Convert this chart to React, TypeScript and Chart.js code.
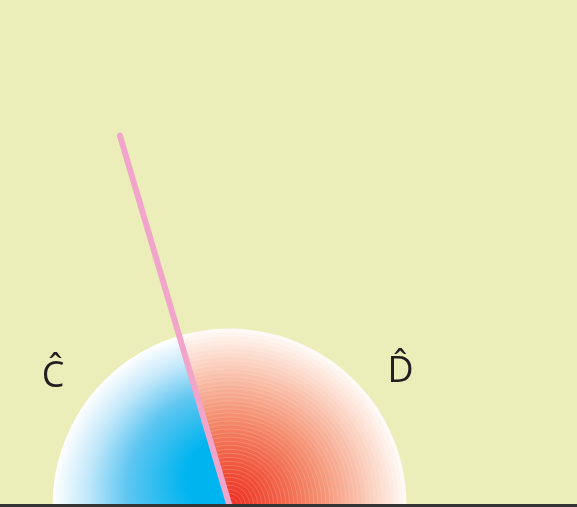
import React, { useEffect, useRef } from "react";
import { Chart, registerables } from "chart.js";

Chart.register(...registerables);

// ---- data ----
const angleNames = ["C\u0302", "D\u0302"];
const angleValuesDeg = [73.5, 106.5]; // C (left, blue), D (right, red); sum = 180
const semicircleRadius = [1];
const rayLength = [2.18];

// view window in data units (circle radius = 1)
const X_MIN = -1.2966;
const X_MAX = 1.9633;
const Y_MIN = -0.0085;
const Y_MAX = 2.8559;

const BG = "#eceeb9";

function mix(a: number[], b: number[], t: number) {
  return a.map((v, i) => Math.round(v + (b[i] - v) * t));
}
const redStops: [number, number[]][] = [
  [0, [237, 45, 34]],
  [0.25, [240, 90, 65]],
  [0.5, [244, 140, 110]],
  [0.75, [249, 196, 176]],
  [0.9, [253, 230, 220]],
  [1, [255, 253, 250]],
];
function redAt(t: number) {
  for (let i = 1; i < redStops.length; i++) {
    if (t <= redStops[i][0]) {
      const [t0, c0] = redStops[i - 1];
      const [t1, c1] = redStops[i];
      const c = mix(c0, c1, (t - t0) / (t1 - t0));
      return `rgb(${c[0]},${c[1]},${c[2]})`;
    }
  }
  return "rgb(255,255,255)";
}

const semicirclePlugin = {
  id: "semicircle",
  beforeDatasetsDraw(chart: any) {
    const { ctx, scales } = chart;
    const xs = scales.x;
    const ys = scales.y;
    const cx = xs.getPixelForValue(0);
    const cy = ys.getPixelForValue(0);
    const R = xs.getPixelForValue(semicircleRadius[0]) - cx;
    const split = -(angleValuesDeg[1] * Math.PI) / 180; // canvas angle of ray

    // blue sector (angle C)
    ctx.save();
    ctx.beginPath();
    ctx.moveTo(cx, cy);
    ctx.arc(cx, cy, R, -Math.PI, split, false);
    ctx.closePath();
    const g = ctx.createRadialGradient(cx - 0.06 * R, cy - 0.2 * R, 0, cx, cy, R);
    g.addColorStop(0, "#00b4ef");
    g.addColorStop(0.2, "#00b4ef");
    g.addColorStop(0.55, "#5ec6f1");
    g.addColorStop(0.8, "#c5e9fa");
    g.addColorStop(1, "#ffffff");
    ctx.fillStyle = g;
    ctx.fill();
    ctx.restore();

    // red sector (angle D) drawn as concentric bands
    const N = 44;
    ctx.save();
    for (let i = N; i >= 1; i--) {
      const r = (R * i) / N;
      ctx.beginPath();
      ctx.moveTo(cx, cy);
      ctx.arc(cx, cy, r, split, 0, false);
      ctx.closePath();
      ctx.fillStyle = redAt((i - 0.5) / N);
      ctx.fill();
      ctx.beginPath();
      ctx.arc(cx, cy, r, split, 0, false);
      ctx.strokeStyle = "rgba(255,235,220,0.25)";
      ctx.lineWidth = 0.8;
      ctx.stroke();
    }
    ctx.restore();
  },
  afterDatasetsDraw(chart: any) {
    const { ctx, scales } = chart;
    const pos = [
      [-0.997, 0.669],
      [0.966, 0.698],
    ];
    ctx.save();
    ctx.fillStyle = "#231f20";
    ctx.font = "36px 'Open Sans', 'Noto Sans', sans-serif";
    ctx.textAlign = "center";
    ctx.textBaseline = "alphabetic";
    angleNames.forEach((t, i) => {
      ctx.fillText(t, scales.x.getPixelForValue(pos[i][0]), scales.y.getPixelForValue(pos[i][1]));
    });
    ctx.restore();
  },
};

export default function App() {
  const ref = useRef<HTMLCanvasElement | null>(null);
  useEffect(() => {
    document.body.style.margin = "0";
    const a = (angleValuesDeg[1] * Math.PI) / 180;
    const rayEnd = { x: rayLength[0] * Math.cos(a), y: rayLength[0] * Math.sin(a) };
    const chart = new Chart(ref.current as HTMLCanvasElement, {
      type: "scatter",
      data: {
        datasets: [
          {
            label: "base",
            data: [
              { x: X_MIN, y: 0 },
              { x: X_MAX, y: 0 },
            ],
            showLine: true,
            borderColor: "#333333",
            borderWidth: 3,
            pointRadius: 0,
            clip: false as any,
            order: 0,
          },
          {
            label: "ray",
            data: [{ x: 0, y: 0 }, rayEnd],
            showLine: true,
            borderColor: "#f2a5cb",
            borderWidth: 6,
            borderCapStyle: "round",
            pointRadius: 0,
            clip: false as any,
            order: 1,
          },
        ],
      },
      options: {
        animation: false,
        responsive: false,
        devicePixelRatio: 1,
        layout: { padding: 0 },
        plugins: { legend: { display: false }, tooltip: { enabled: false } },
        scales: {
          x: { type: "linear", min: X_MIN, max: X_MAX, display: false },
          y: { type: "linear", min: Y_MIN, max: Y_MAX, display: false },
        },
      },
      plugins: [semicirclePlugin],
    });
    return () => chart.destroy();
  }, []);
  return (
    <div style={{ width: 577, height: 507, background: BG }}>
      <canvas ref={ref} width={577} height={507} style={{ display: "block" }} />
    </div>
  );
}
